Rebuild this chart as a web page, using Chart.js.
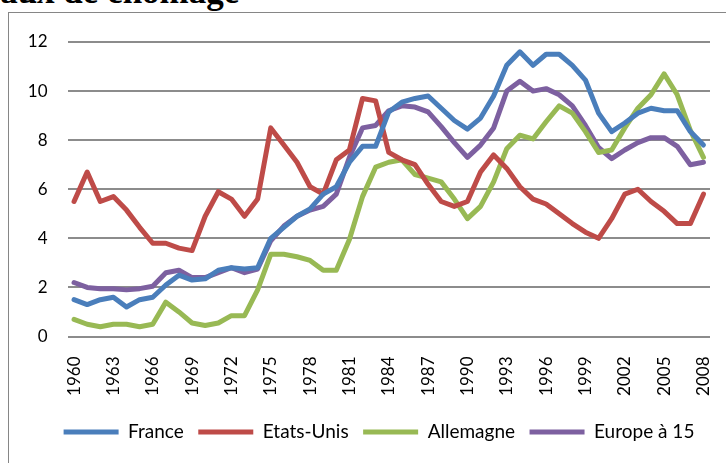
<!DOCTYPE html>
<html><head><meta charset="utf-8">
<script src="https://cdn.jsdelivr.net/npm/chart.js@4"></script>
<style>
html,body{margin:0;padding:0;background:#fff;width:726px;height:463px;overflow:hidden;position:relative;}
#title{position:absolute;left:-20px;top:-26px;font:bold 35px "Liberation Serif","Times New Roman",serif;line-height:1;white-space:nowrap;color:#000;}
#frame{position:absolute;left:8px;top:12px;width:740px;height:470px;border:1.5px solid #868686;box-sizing:border-box;}
#wrap{position:absolute;left:0;top:0;width:726px;height:463px;}
</style></head>
<body>
<div id="title">Taux de chômage</div>
<div id="frame"></div>
<div id="wrap"><canvas id="c" width="726" height="463"></canvas></div>
<script>
const years = [];
for (let y = 1960; y <= 2008; y++) years.push(String(y));
const france = [1.5,1.3,1.5,1.6,1.2,1.5,1.6,2.1,2.5,2.3, 2.35,2.7,2.8,2.75,2.8,4.0,4.45,4.9,5.2,5.8, 6.1,7.1,7.75,7.75,9.15,9.55,9.7,9.8,9.3,8.8, 8.45,8.9,9.8,11.05,11.6,11.05,11.5,11.5,11.05,10.45, 9.1,8.35,8.7,9.1,9.3,9.2,9.2,8.35,7.8];
const etatsUnis = [5.5,6.7,5.5,5.7,5.15,4.45,3.8,3.8,3.6,3.5, 4.9,5.9,5.6,4.9,5.6,8.5,7.8,7.1,6.1,5.8, 7.2,7.6,9.7,9.6,7.5,7.2,7.0,6.2,5.5,5.3, 5.5,6.7,7.4,6.85,6.1,5.6,5.4,5.0,4.6,4.25, 4.0,4.8,5.8,6.0,5.5,5.1,4.6,4.6,5.8];
const allemagne = [0.7,0.5,0.4,0.5,0.5,0.4,0.5,1.4,1.0,0.55, 0.45,0.55,0.85,0.85,1.9,3.35,3.35,3.25,3.1,2.7, 2.7,3.95,5.7,6.9,7.1,7.2,6.6,6.45,6.3,5.6, 4.8,5.3,6.3,7.65,8.2,8.05,8.75,9.4,9.1,8.35, 7.5,7.6,8.5,9.3,9.85,10.7,9.85,8.4,7.3];
const europe15 = [2.2,2.0,1.95,1.95,1.9,1.95,2.05,2.6,2.7,2.4, 2.4,2.6,2.8,2.6,2.75,3.9,4.5,4.9,5.15,5.3, 5.8,7.3,8.5,8.6,9.2,9.4,9.35,9.15,8.55,7.9, 7.3,7.8,8.5,10.0,10.4,10.0,10.1,9.85,9.4,8.6, 7.7,7.25,7.6,7.9,8.1,8.1,7.75,7.0,7.1];
const seriesNames = ["France","Etats-Unis","Allemagne","Europe à 15"];
const colors = ["#4A7EBB","#BE4B48","#98B954","#7D60A0"];
const yTicks = [0,2,4,6,8,10,12];

const mk = (label, data, color) => ({
  label, data, borderColor: color, backgroundColor: color,
  borderWidth: 5, pointRadius: 0, tension: 0, fill: false,
  borderJoinStyle: 'round', borderCapStyle: 'round'
});

const tickFont = {family: 'Lato, "Open Sans", sans-serif', size: 17};
const legendFont = {family: 'Lato, "Open Sans", sans-serif', size: 19};

// keep the legend on one row and shift it slightly to the right
const legendOneRow = {
  id: 'legendOneRow',
  beforeLayout(chart) {
    const l = chart.legend;
    if (l && !l._oneRow) {
      const orig = l.fit.bind(l);
      l.fit = function() {
        const mw = this.maxWidth;
        this.maxWidth = 3000;
        orig();
        this.maxWidth = mw;
        this.width = mw;
      };
      l._oneRow = true;
    }
  },
  afterLayout(chart) {
    const l = chart.legend;
    if (l) {
      l.left = 48; l.right = 710; l.width = l.right - l.left;
      if (l.adjustHitBoxes) l.adjustHitBoxes();
    }
  }
};

new Chart(document.getElementById('c'), {
  type: 'line',
  data: {
    labels: years,
    datasets: [
      mk(seriesNames[0], france, colors[0]),
      mk(seriesNames[1], etatsUnis, colors[1]),
      mk(seriesNames[2], allemagne, colors[2]),
      mk(seriesNames[3], europe15, colors[3])
    ]
  },
  plugins: [legendOneRow],
  options: {
    responsive: false,
    animation: false,
    devicePixelRatio: 1,
    layout: {padding: {top: 42, left: 8, right: 16, bottom: 11.5}},
    plugins: {
      tooltip: {enabled: false},
      legend: {
        position: 'bottom',
        labels: {
          usePointStyle: true, pointStyle: 'line', pointStyleWidth: 55,
          boxHeight: 19, padding: 14.5, color: '#000', font: legendFont
        }
      }
    },
    scales: {
      x: {
        offset: true,
        grid: {display: false},
        border: {display: false},
        afterFit: s => { s.height = 71.5; s.paddingLeft = 0; s.paddingRight = 0; },
        ticks: {
          autoSkip: false, maxRotation: 90, minRotation: 90,
          padding: 12, color: '#000', font: tickFont,
          callback: function(v, i) { return i % 3 === 0 ? this.getLabelForValue(v) : ''; }
        }
      },
      y: {
        min: 0, max: 12,
        afterFit: s => { s.width = 59.5; },
        afterBuildTicks: s => { s.ticks = yTicks.map(v => ({value: v})); },
        grid: {color: '#8c8c8c', lineWidth: 2, drawTicks: false},
        border: {display: false},
        ticks: {padding: 20, color: '#000', font: tickFont}
      }
    }
  }
});
</script>
</body></html>
